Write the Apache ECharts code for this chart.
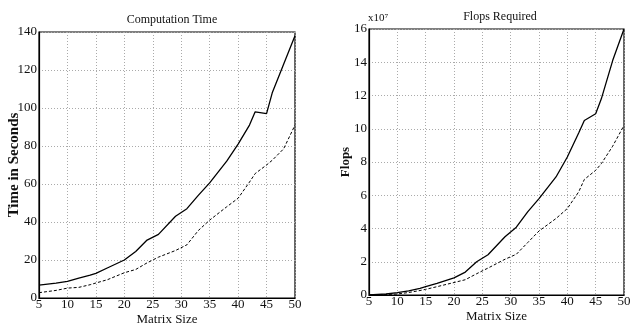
<!DOCTYPE html>
<html>
<head>
<meta charset="utf-8">
<script src="https://cdn.jsdelivr.net/npm/echarts@6/dist/echarts.min.js"></script>
<style>
  html, body { margin: 0; padding: 0; background: #fff; }
  #chart { width: 631px; height: 334px; }
</style>
</head>
<body>
<div id="chart"></div>
<script>
var sizes = [5, 8, 10, 12, 14, 15, 17, 20, 22, 24, 26, 29, 31, 33, 35, 38, 40, 42, 43, 45, 46, 48, 50];

// computation time (seconds)
var timeSolid = [6.8, 7.8, 8.8, 10.5, 12, 13, 15.8, 20, 24.5, 30.5, 33.5, 43, 47, 54, 60.6, 72, 81, 91, 98, 97, 108, 123, 138];
var timeDashed = [2.8, 4, 5.2, 5.6, 7, 7.9, 9.6, 13.3, 15, 18.5, 21.5, 25, 28, 35.5, 41, 48, 52.5, 61, 65.5, 70, 72.5, 78.5, 91];

// flops required (x10^7)
var flopsSolid = [0, 0.06, 0.14, 0.25, 0.4, 0.5, 0.7, 1.03, 1.38, 2.0, 2.42, 3.5, 4.08, 5.0, 5.8, 7.1, 8.3, 9.75, 10.5, 10.9, 11.8, 14.1, 16];
var flopsDashed = [0, 0.03, 0.06, 0.15, 0.27, 0.34, 0.5, 0.75, 0.92, 1.28, 1.62, 2.15, 2.45, 3.15, 3.85, 4.6, 5.2, 6.2, 6.95, 7.5, 7.9, 8.95, 10.2];

function pairs(ys) {
    return sizes.map(function (s, i) { return [s, ys[i]]; });
}

var serif = 'Liberation Serif';
var gridLine = { show: true, lineStyle: { color: '#aaa', type: [1, 2], width: 1 } };

function xAxis(idx) {
    return {
        type: 'value', gridIndex: idx, min: 5, max: 50, interval: 5,
        name: 'Matrix Size', nameLocation: 'middle', nameGap: 15, nameMoveOverlap: false,
        nameTextStyle: { fontFamily: serif, fontSize: 13, color: '#111' },
        axisLine: { lineStyle: { color: '#000', width: 1.2 } },
        axisTick: { show: false },
        axisLabel: { fontFamily: serif, fontSize: 13, color: '#111', margin: 0 },
        splitLine: gridLine
    };
}

function yAxis(idx, max, step, name, gap, size) {
    return {
        type: 'value', gridIndex: idx, min: 0, max: max, interval: step,
        name: name, nameLocation: 'middle', nameGap: gap, nameMoveOverlap: false,
        nameTextStyle: { fontFamily: serif, fontSize: size, fontWeight: 'bold', color: '#111' },
        axisLine: { show: true, lineStyle: { color: '#000', width: 1.2 } },
        axisTick: { show: false },
        axisLabel: { fontFamily: serif, fontSize: 13, color: '#111', margin: 2 },
        splitLine: gridLine
    };
}

function line(idx, ys, dashed) {
    return {
        type: 'line', xAxisIndex: idx, yAxisIndex: idx,
        data: pairs(ys), symbol: 'none', silent: true,
        lineStyle: { color: '#000', width: dashed ? 1 : 1.3, type: dashed ? [3, 2] : 'solid' }
    };
}

var myChart = echarts.init(document.getElementById('chart'));
var option = {
    animation: false,
    backgroundColor: '#fff',
    title: [
        { text: 'Computation Time', left: 167, top: 9, textAlign: 'center',
          textStyle: { fontFamily: serif, fontSize: 12, fontWeight: 'normal', color: '#111' } },
        { text: 'Flops Required', left: 495, top: 6, textAlign: 'center',
          textStyle: { fontFamily: serif, fontSize: 12, fontWeight: 'normal', color: '#111' } },
        { text: 'x10⁷', left: 363, top: 8,
          textStyle: { fontFamily: serif, fontSize: 11, fontWeight: 'normal', color: '#111' } }
    ],
    grid: [
        { left: 39, right: 336, top: 32, bottom: 36, outerBoundsMode: 'none',
          show: true, borderColor: '#000', borderWidth: 1.2 },
        { left: 369, right: 7, top: 29, bottom: 39, outerBoundsMode: 'none',
          show: true, borderColor: '#000', borderWidth: 1.2 }
    ],
    xAxis: [xAxis(0), xAxis(1)],
    yAxis: [yAxis(0, 140, 20, 'Time in Seconds', 17, 15), yAxis(1, 16, 2, 'Flops', 17, 13)],
    series: [
        line(0, timeSolid, false),
        line(0, timeDashed, true),
        line(1, flopsSolid, false),
        line(1, flopsDashed, true)
    ]
};
myChart.setOption(option);
</script>
</body>
</html>
